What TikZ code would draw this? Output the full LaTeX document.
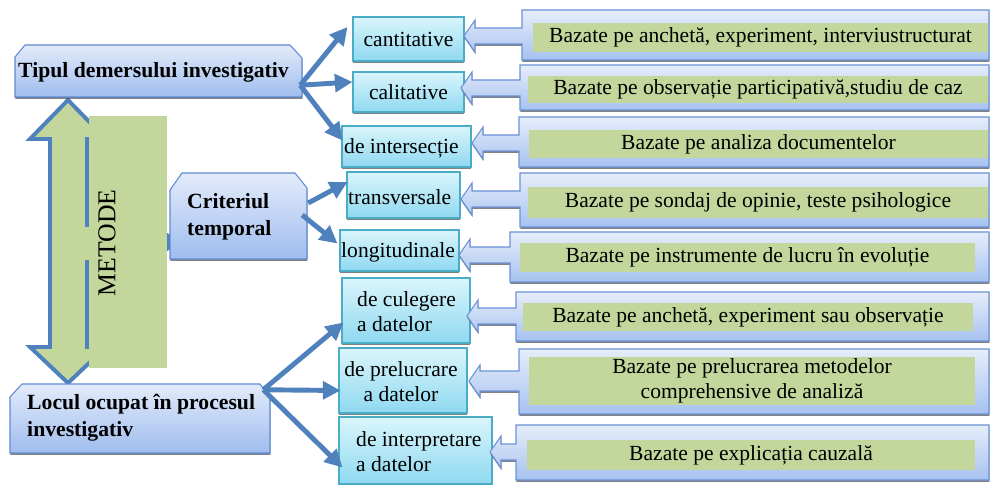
\documentclass[tikz,border=0pt]{standalone}
\usepackage{fontspec}
\setmainfont{Liberation Serif}
\usetikzlibrary{arrows.meta,fit,shadows,calc}

\definecolor{arrowblue}{HTML}{4F81BD}
\definecolor{boxtop}{HTML}{E3EBFA}
\definecolor{boxbot}{HTML}{9FBDEE}
\definecolor{boxline}{HTML}{5F8AD3}
\definecolor{cyantop}{HTML}{DAF5FC}
\definecolor{cyanbot}{HTML}{8FD9F0}
\definecolor{cyanline}{HTML}{4BACC6}
\definecolor{calltop}{HTML}{E6EDFA}
\definecolor{callbot}{HTML}{A6C2F0}
\definecolor{calloutline}{HTML}{6A92D8}
\definecolor{olivegreen}{HTML}{C3D69B}

% left-pointing callout: body left, top, bottom, tip x, tip y, shaft half-height
\newcommand{\calloutarrow}[6]{%
  \path[calloutbox] (989,#2) -- (#1,#2) -- (#1,{#5-#6}) -- ({#4+11},{#5-#6})
    -- ({#4+11},{#5-16}) -- (#4,#5) -- ({#4+11},{#5+16}) -- ({#4+11},{#5+#6})
    -- (#1,{#5+#6}) -- (#1,#3) -- (989,#3) -- cycle;}

\begin{document}
\begin{tikzpicture}[x=0.03cm,y=-0.03cm,line join=miter,
  shadowed/.style={drop shadow={shadow xshift=0.3pt,shadow yshift=-1.7pt,fill=black!70,opacity=0.7}},
  mainbox/.style={shadowed,draw=boxline,line width=0.9pt,top color=boxtop,bottom color=boxbot},
  midbox/.style={shadowed,draw=cyanline,line width=0.9pt,top color=cyantop,bottom color=cyanbot,inner sep=0},
  calloutbox/.style={shadowed,draw=calloutline,line width=0.9pt,top color=calltop,bottom color=callbot},
  greenbox/.style={fill=olivegreen,inner sep=0},
  anchorbox/.style={inner sep=0},
  conn/.style={draw=arrowblue,line width=4.2pt,-{Triangle[length=15pt,width=15pt]}},
  regtext/.style={inner sep=0,align=center,font=\fontsize{18.4}{21.5}\selectfont},
  lefttext/.style={regtext,anchor=west,align=left},
  boldtext/.style={inner sep=0,anchor=west,align=left,font=\bfseries\fontsize{18.5}{23.5}\selectfont}]

\useasboundingbox[fill=white] (0,0) rectangle (991,485);

% outlines used for anchoring
\node[anchorbox,fit={(89,116)(167,368)}] (metode) {};
\node[anchorbox,fit={(170,173)(307,259)}] (crit) {};

% METODE double arrow and the arrow into "Criteriul temporal", both behind the green panel
\path[fill=olivegreen,draw=arrowblue,line width=3.4pt]
  (68,100) -- (106,139) -- (87,139) -- (87,347) -- (106,347) -- (68,383)
  -- (30,347) -- (50,347) -- (50,139) -- (30,139) -- cycle;
\draw[conn] (metode.center) -- ($(crit.west |- metode.center)+(14,0)$);
\fill[olivegreen] (metode.south west) rectangle (metode.north east);
\fill[olivegreen] (85,227) rectangle (89,260);
\node[inner sep=0,rotate=90,font=\fontsize{22}{24}\selectfont] at (107,243) {METODE};

% header boxes with cut top corners
\path[mainbox] (170,190) -- (182,173) -- (295,173) -- (307,188) -- (307,259) -- (170,259) -- cycle;
\node[boldtext] at (187,217) {Criteriul\\temporal};

\path[mainbox] (15,57) -- (25,45) -- (290,45) -- (302,58) -- (302,97) -- (15,97) -- cycle;
\node[anchorbox,fit={(15,45)(302,97)}] (tipul) {};
\node[boldtext] at (18,72) {Tipul demersului investigativ};

\path[mainbox] (10,397) -- (22,384) -- (260,384) -- (270,397) -- (270,453) -- (10,453) -- cycle;
\node[anchorbox,fit={(10,384)(270,453)}] (locul) {};
\node[boldtext,font=\bfseries\fontsize{18.5}{23}\selectfont] at (27,418) {Locul ocupat în procesul\\investigativ};

% method categories
\node[midbox,fit={(353,17)(464,61)}] (cant) {};
\node[regtext] at (cant) {cantitative};
\node[midbox,fit={(353,72)(464,112)}] (cal) {};
\node[regtext] at (cal) {calitative};
\node[midbox,fit={(342,126)(471,167)}] (inter) {};
\node[lefttext] at (344,148) {de intersecție};
\node[midbox,fit={(347,172)(460,218)}] (trans) {};
\node[lefttext] at (348,197) {transversale};
\node[midbox,fit={(340,230)(459,271)}] (longi) {};
\node[lefttext] at (341,252) {longitudinale};
\node[midbox,fit={(342,278)(470,343)}] (cul) {};
\node[lefttext] at (357,312) {de culegere\\a datelor};
\node[midbox,fit={(339,348)(467,413)}] (prel) {};
\node[regtext] at (401,382) {de prelucrare\\a datelor};
\node[midbox,fit={(339,417)(492,484)}] (interp) {};
\node[lefttext] at (356,452) {de interpretare\\a datelor};

% branching connectors
\draw[conn] ([shift={(-2,-12)}]tipul.south east) -- ([shift={(-5,-12)}]cant.west);
\draw[conn] ([shift={(-2,-12)}]tipul.south east) -- ([shift={(0,-10)}]cal.west);
\draw[conn] ([shift={(-2,-12)}]tipul.south east) -- ([shift={(1,-6)}]inter.west);
\draw[conn] ([shift={(1,-13)}]crit.east) -- ([shift={(1,-13)}]trans.west);
\draw[conn] ([shift={(-5,-1)}]crit.east) -- ([shift={(-2,-7)}]longi.west);
\draw[conn] ([shift={(-7,6)}]locul.north east) -- ([shift={(2,12)}]cul.west);
\draw[conn] ([shift={(-7,6)}]locul.north east) -- ([shift={(2,10)}]prel.west);
\draw[conn] ([shift={(-7,6)}]locul.north east) -- ([shift={(4,17)}]interp.west);

% callouts pointing back at each category
\calloutarrow{522}{10}{60}{464}{36}{8}
\calloutarrow{520}{65}{110}{461}{88}{8}
\calloutarrow{519}{117}{167}{472}{143}{8}
\calloutarrow{520}{173}{227}{461}{199}{8}
\calloutarrow{510}{232}{282}{459}{255}{8}
\calloutarrow{516}{292}{341}{467}{316}{8}
\calloutarrow{519}{349}{414}{469}{381}{10}
\calloutarrow{516}{425}{480}{490}{452}{8}

\node[greenbox,fit={(533,23)(988,52)}] (g1) {};
\node[regtext] at (g1) {Bazate pe anchetă, experiment, interviustructurat};
\node[greenbox,fit={(528,76)(988,103)}] (g2) {};
\node[regtext] at (g2) {Bazate pe observație participativă,studiu de caz};
\node[greenbox,fit={(529,130)(988,158)}] (g3) {};
\node[regtext] at (g3) {Bazate pe analiza documentelor};
\node[greenbox,fit={(528,187)(988,218)}] (g4) {};
\node[regtext] at (g4) {Bazate pe sondaj de opinie, teste psihologice};
\node[greenbox,fit={(520,243)(975,272)}] (g5) {};
\node[regtext] at (g5) {Bazate pe instrumente de lucru în evoluție};
\node[greenbox,fit={(523,303)(973,331)}] (g6) {};
\node[regtext] at (g6) {Bazate pe anchetă, experiment sau observație};
\node[greenbox,fit={(529,357)(975,405)}] (g7) {};
\node[regtext] at (g7) {Bazate pe prelucrarea metodelor\\comprehensive de analiză};
\node[greenbox,fit={(527,440)(975,470)}] (g8) {};
\node[regtext] at (g8) {Bazate pe explicația cauzală};

\end{tikzpicture}
\end{document}
